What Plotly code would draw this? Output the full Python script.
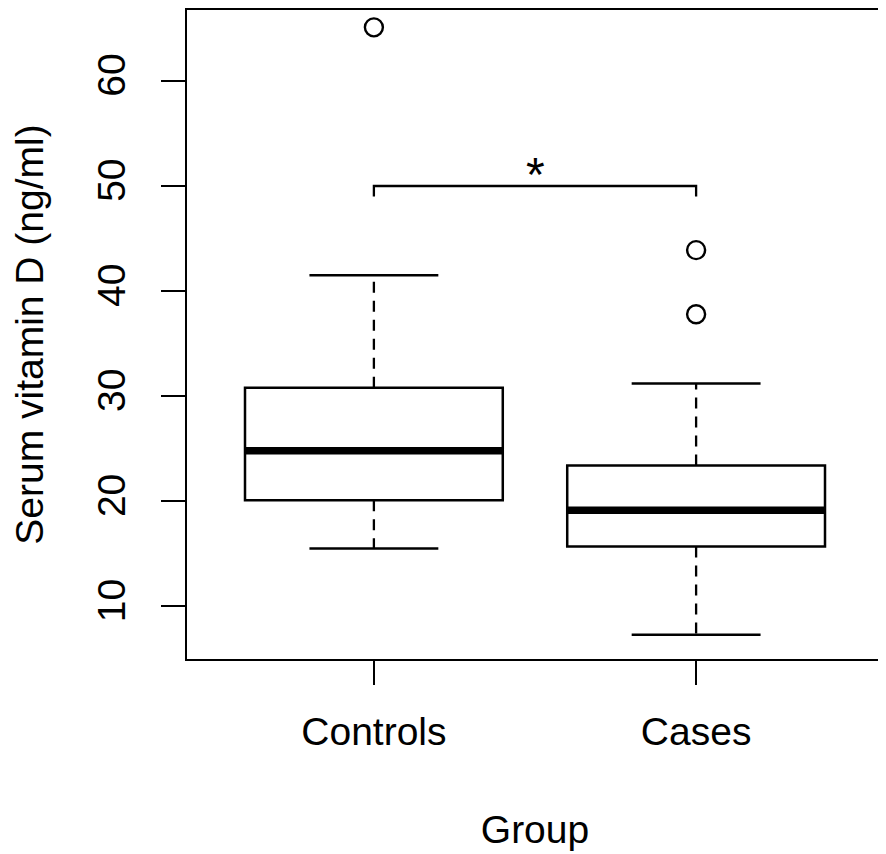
"""boxplot of serum vitamin D by group, R base graphics look"""

import plotly.graph_objects as go

# values
groups = ["Controls", "Cases"]
group_pos = [1, 2]
lower_whisker = [15.5, 7.3]
q1 = [20.1, 15.7]
medians = [24.8, 19.15]
q3 = [30.8, 23.4]
upper_whisker = [41.5, 31.2]
outliers = [[65.1], [43.9, 37.8]]

y_ticks = [10, 20, 30, 40, 50, 60]
y_range = [4.99, 66.75]
bracket_y = 50
bracket_drop = 1.0
signif_label = "*"

FONT = "Liberation Sans, Arial, Helvetica, sans-serif"
BOX_W = 0.8
CAP_W = 0.4

fig = go.Figure()

#whiskers (dashed) from box edge to whisker end
wx, wy = [], []
for p, lo, a, b, hi in zip(group_pos, lower_whisker, q1, q3, upper_whisker):
    wx += [p, p, None, p, p, None]
    wy += [b, hi, None, a, lo, None]
fig.add_trace(go.Scatter(x=wx, y=wy, mode="lines",
                         line=dict(color="black", width=2.3, dash="11px,8px"),
                         hoverinfo="skip"))

#whisker caps
cx, cy = [], []
for p, lo, hi in zip(group_pos, lower_whisker, upper_whisker):
    cx += [p - CAP_W / 2, p + CAP_W / 2, None, p - CAP_W / 2, p + CAP_W / 2, None]
    cy += [hi, hi, None, lo, lo, None]
fig.add_trace(go.Scatter(x=cx, y=cy, mode="lines",
                         line=dict(color="black", width=2.5), hoverinfo="skip"))

#boxes, whiskers hidden (fences = quartiles)
for p, a, m, b in zip(group_pos, q1, medians, q3):
    fig.add_trace(go.Box(x=[p], q1=[a], median=[m], q3=[b],
                         lowerfence=[a], upperfence=[b], width=BOX_W,
                         fillcolor="white", line=dict(color="black", width=2.5),
                         boxpoints=False, hoverinfo="skip"))

#thick median lines
mx, my = [], []
for p, m in zip(group_pos, medians):
    mx += [p - BOX_W / 2, p + BOX_W / 2, None]
    my += [m, m, None]
fig.add_trace(go.Scatter(x=mx, y=my, mode="lines",
                         line=dict(color="black", width=7.5), hoverinfo="skip"))

#outliers as open circles
ox, oy = [], []
for p, vals in zip(group_pos, outliers):
    ox += [p] * len(vals)
    oy += vals
fig.add_trace(go.Scatter(x=ox, y=oy, mode="markers",
                         marker=dict(symbol="circle-open", size=18, color="black",
                                     line=dict(width=2.4)),
                         hoverinfo="skip"))

#significance bracket
fig.add_trace(go.Scatter(x=[group_pos[0], group_pos[0], group_pos[1], group_pos[1]],
                         y=[bracket_y - bracket_drop, bracket_y, bracket_y, bracket_y - bracket_drop],
                         mode="lines", line=dict(color="black", width=2.3),
                         hoverinfo="skip"))
fig.add_annotation(x=sum(group_pos) / 2, y=bracket_y, text=signif_label,
                   showarrow=False, yanchor="bottom", yshift=-17,
                   font=dict(family=FONT, size=48, color="black"))

#page body has an 8px margin, so the figure is a bit smaller than the window
fig.update_layout(
    width=878, height=846,
    margin=dict(l=179, r=3, t=0, b=195),
    paper_bgcolor="white", plot_bgcolor="white",
    showlegend=False,
    font=dict(family=FONT, size=39, color="black"),
)

fig.update_xaxes(
    range=[0.42, 2.58], tickvals=group_pos, ticktext=groups,
    ticks="outside", ticklen=24, tickwidth=2.3, tickcolor="black",
    showline=True, linewidth=2.3, linecolor="black", mirror=True,
    showgrid=False, zeroline=False, ticklabelstandoff=13,
    title=dict(text="Group", standoff=64, font=dict(size=39)),
)
fig.update_yaxes(
    range=y_range, tickvals=y_ticks, tickangle=-90,
    ticks="outside", ticklen=24, tickwidth=2.3, tickcolor="black",
    showline=True, linewidth=2.3, linecolor="black", mirror=True,
    showgrid=False, zeroline=False, ticklabelstandoff=20,
    title=dict(text="Serum vitamin D (ng/ml)", standoff=54, font=dict(size=39)),
)

fig.write_html("out.html")
